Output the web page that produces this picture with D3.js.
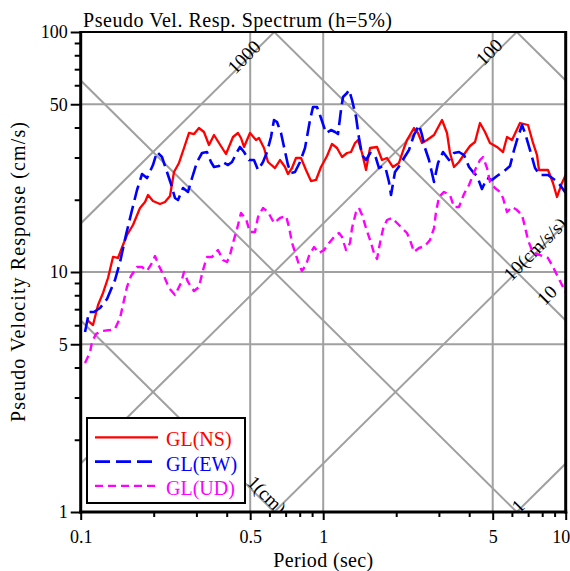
<!DOCTYPE html>
<html>
<head>
<meta charset="utf-8">
<script src="https://cdn.jsdelivr.net/npm/d3@7"></script>
<style>
  body { margin: 0; background: #fff; }
  svg { display: block; }
  text { font-family: "Liberation Serif", "Times New Roman", serif; }
</style>
</head>
<body>
<svg id="chart" width="570" height="571"></svg>
<script>
// ---- Pseudo velocity response spectra, h = 5% ----
const periodsNS = [0.1062,0.1124,0.1179,0.1236,0.1296,0.1359,0.1425,0.1494,0.1552,0.1643,0.1756,0.1842,0.1895,0.1986,0.2123,0.2226,0.2335,0.2425,0.2543,0.2667,0.2797,0.2933,0.3074,0.3224,0.3381,0.3546,0.3718,0.3973,0.4247,0.4453,0.4582,0.4715,0.4990,0.5284,0.5436,0.5701,0.5921,0.6328,0.6636,0.6959,0.7157,0.7438,0.7723,0.8099,0.8493,0.8907,0.934,0.9793,1.037,1.087,1.140,1.196,1.254,1.302,1.353,1.392,1.446,1.502,1.560,1.667,1.748,1.833,1.940,2.053,2.154,2.216,2.368,2.460,2.555,2.680,2.864,3.090,3.240,3.333,3.462,3.631,3.844,4.030,4.227,4.432,4.648,4.873,5.208,5.514,5.728,6.006,6.480,6.991,7.332,7.616,7.760,8.453,8.864,9.208,9.655,10.0];
const valuesNS = [6.31,6.01,7.29,8.18,9.44,11.55,11.44,12.96,14.26,15.70,18.48,19.57,20.93,19.76,19.20,19.57,20.73,26.10,28.46,32.86,37.95,37.58,39.81,38.31,33.82,37.23,34.48,31.02,36.52,37.95,36.17,33.18,37.95,35.48,36.17,32.86,28.73,27.12,29.28,27.38,25.60,27.12,29.85,29.85,26.61,23.94,24.18,27.38,30.43,34.15,32.86,30.14,31.32,31.62,34.48,35.48,31.32,26.61,32.86,33.18,29.28,29.85,27.38,28.46,32.86,35.48,39.81,37.95,34.48,35.48,37.23,42.99,37.95,31.32,27.38,28.73,31.32,33.50,34.81,41.77,38.31,34.48,33.18,31.62,36.52,35.48,41.77,40.97,34.48,30.72,26.61,26.61,23.49,20.54,23.49,25.36];

const periodsEW = [0.1042,0.1082,0.1134,0.1201,0.1284,0.1385,0.1453,0.1537,0.1628,0.1707,0.1790,0.1877,0.1986,0.2063,0.2164,0.2269,0.2357,0.2448,0.2519,0.2642,0.2770,0.2878,0.3017,0.3164,0.3317,0.3446,0.3546,0.3718,0.3862,0.4050,0.4206,0.4411,0.4539,0.4715,0.4943,0.5184,0.5385,0.5647,0.5866,0.6093,0.6268,0.6449,0.6699,0.6894,0.7157,0.7367,0.7651,0.8023,0.8413,0.8823,0.9077,0.9428,0.9793,1.027,1.077,1.119,1.151,1.184,1.207,1.254,1.278,1.315,1.366,1.405,1.446,1.502,1.560,1.636,1.699,1.765,1.816,1.868,1.904,1.977,2.073,2.154,2.258,2.368,2.484,2.555,2.629,2.731,2.864,2.975,3.119,3.302,3.462,3.631,3.807,3.993,4.147,4.308,4.515,4.737,4.967,5.208,5.514,5.894,6.122,6.297,6.605,6.795,7.127,7.473,7.834,8.453,9.035,9.474,10.0];
const valuesEW = [5.62,6.81,6.81,7.08,7.72,9.26,11.01,14.26,18.12,21.96,25.60,24.64,27.91,31.62,30.14,26.10,23.26,20.34,19.95,22.39,21.55,24.64,28.73,31.32,31.62,28.73,27.38,27.65,28.73,27.91,28.73,31.62,33.18,31.62,29.28,29.28,26.61,28.73,31.62,36.52,42.99,42.17,37.95,33.18,27.91,25.85,26.10,28.73,32.86,42.99,48.70,48.70,43.82,37.95,39.05,38.31,37.58,47.32,53.60,55.71,57.33,52.08,44.25,36.17,30.72,29.28,31.32,30.72,27.12,27.65,26.61,23.72,20.93,26.10,27.91,29.85,32.23,37.23,40.97,37.23,32.86,29.28,23.72,28.46,31.62,29.28,31.32,31.62,30.72,27.38,26.10,25.12,22.18,24.64,24.18,25.12,26.10,27.65,32.23,35.48,40.97,37.95,32.23,27.12,25.36,25.36,24.18,23.04,21.34];

const periodsUD = [0.1042,0.1093,0.1113,0.1157,0.1224,0.1321,0.1385,0.1453,0.1509,0.1552,0.1612,0.1707,0.1790,0.1877,0.1968,0.2025,0.2103,0.2205,0.2313,0.2448,0.2592,0.2667,0.2770,0.2933,0.3074,0.3194,0.3317,0.3479,0.3683,0.3862,0.4011,0.4128,0.4247,0.4411,0.4582,0.4805,0.4990,0.5234,0.5385,0.5647,0.5921,0.6268,0.6636,0.7026,0.7229,0.7438,0.7723,0.7947,0.8174,0.8493,0.8739,0.9165,0.9610,1.008,1.057,1.108,1.162,1.196,1.242,1.290,1.315,1.366,1.405,1.446,1.502,1.575,1.620,1.667,1.715,1.765,1.833,1.923,2.015,2.113,2.216,2.280,2.368,2.484,2.629,2.757,2.864,2.919,3.003,3.149,3.333,3.462,3.631,3.807,3.993,4.227,4.432,4.561,4.737,4.873,5.111,5.359,5.514,5.728,6.006,6.297,6.605,6.795,6.991,7.332,7.834,8.453,8.864,9.296,9.655,10.0];
const valuesUD = [4.18,4.64,5.11,5.52,5.68,5.73,5.79,6.43,7.64,8.66,9.62,10.49,10.49,10.10,10.90,11.66,10.59,9.62,8.58,8.02,9.00,10.0,9.09,8.33,8.66,10.19,11.55,11.55,12.35,11.22,11.01,11.77,13.21,15.11,17.61,16.63,14.68,14.68,16.95,18.48,17.78,16.00,16.79,17.11,15.40,13.21,11.77,10.70,10.10,10.70,11.66,12.71,12.00,12.35,13.21,13.99,14.54,13.99,12.35,13.21,15.25,17.78,18.48,17.28,15.25,13.21,12.00,11.33,13.21,15.11,16.47,16.79,16.00,15.25,14.54,13.59,12.12,12.59,12.83,13.59,15.25,17.78,20.54,21.55,20.93,18.66,18.66,21.14,23.04,26.61,29.28,30.14,27.12,23.72,22.39,21.55,20.34,17.78,18.66,18.12,17.28,15.40,13.59,12.00,11.77,11.44,10.49,9.53,8.83,8.18];

const seriesNames = ["GL(NS)", "GL(EW)", "GL(UD)"];

// Axis ticks
const yMajorTicks = [1, 5, 10, 50, 100];
const yMinorTicks = [2, 3, 4, 6, 7, 8, 9, 20, 30, 40, 60, 70, 80, 90];
const xMajorTicks = [0.1, 0.5, 1, 5, 10];
const xMinorTicks = [0.2, 0.3, 0.4, 0.6, 0.7, 0.8, 0.9, 2, 3, 4, 6, 7, 8, 9];
const xTickLabels = ["0.1", "0.5", "1", "5", "10"];
const yTickLabels = ["1", "5", "10", "50", "100"];
const xGrid = [0.5, 1, 5];
const yGrid = [5, 10, 50];

// Tripartite reference lines: constant acceleration (cm/s/s) and displacement (cm)
const accelLevels = [1, 10, 100, 1000];
const dispLevels = [0.1, 1, 10, 100];
// Line labels: text, period, velocity, rotation
const lineLabelText = ["1000", "100", "10(cm/s/s)", "10", "1(cm)", "1"];
const lineLabelT = [0.4715, 4.83, 7.47, 8.37, 0.5865, 6.36];
const lineLabelV = [78.7, 82.5, 12.47, 8.0, 1.177, 1.06];
const lineLabelRot = [-45, -45, -45, -45, 45, -45];

// ---- layout ----
const svg = d3.select("#chart");
const pL = 80.7, pR = 565.7, pT = 32, pB = 512;
const x = d3.scaleLog().domain([0.1, 10]).range([pL, pR]);
const y = d3.scaleLog().domain([1, 100]).range([pB, pT]);
const gridColor = "#a0a0a0";

svg.append("rect").attr("width", 570).attr("height", 571).attr("fill", "#fff");

svg.append("defs").append("clipPath").attr("id", "plotClip")
  .append("rect").attr("x", pL).attr("y", pT)
  .attr("width", pR - pL).attr("height", pB - pT);

const plot = svg.append("g").attr("clip-path", "url(#plotClip)");

// grid
plot.selectAll(".vgrid").data(xGrid).join("line")
  .attr("x1", d => x(d)).attr("x2", d => x(d))
  .attr("y1", pT).attr("y2", pB)
  .attr("stroke", gridColor).attr("stroke-width", 2);
plot.selectAll(".hgrid").data(yGrid).join("line")
  .attr("x1", pL).attr("x2", pR)
  .attr("y1", d => y(d)).attr("y2", d => y(d))
  .attr("stroke", gridColor).attr("stroke-width", 2);

// diagonal lines
const TWO_PI = 2 * Math.PI;
const tA = 0.02, tB = 50;
plot.selectAll(".acc").data(accelLevels).join("line")
  .attr("x1", x(tA)).attr("x2", x(tB))
  .attr("y1", a => y(a * tA / TWO_PI)).attr("y2", a => y(a * tB / TWO_PI))
  .attr("stroke", gridColor).attr("stroke-width", 2);
plot.selectAll(".disp").data(dispLevels).join("line")
  .attr("x1", x(tA)).attr("x2", x(tB))
  .attr("y1", dd => y(TWO_PI * dd / tA)).attr("y2", dd => y(TWO_PI * dd / tB))
  .attr("stroke", gridColor).attr("stroke-width", 2);

// line labels
plot.selectAll(".lineLabel").data(lineLabelText).join("text")
  .attr("transform", (t, i) => `translate(${x(lineLabelT[i])},${y(lineLabelV[i])}) rotate(${lineLabelRot[i]})`)
  .attr("text-anchor", "middle")
  .attr("dominant-baseline", "central")
  .attr("font-size", 19)
  .attr("fill", "#000")
  .text(t => t);

// curves
const styles = [
  { color: "#ff0000", width: 2.3, dash: null },
  { color: "#0000ff", width: 2.6, dash: "15,6" },
  { color: "#ff00ff", width: 2.4, dash: "8,5" }
];
const seriesData = [
  d3.zip(periodsNS, valuesNS),
  d3.zip(periodsEW, valuesEW),
  d3.zip(periodsUD, valuesUD)
];
const line = d3.line().x(d => x(d[0])).y(d => y(d[1]));
seriesData.forEach((pts, i) => {
  plot.append("path")
    .datum(pts)
    .attr("d", line)
    .attr("fill", "none")
    .attr("stroke", styles[i].color)
    .attr("stroke-width", styles[i].width)
    .attr("stroke-linejoin", "round")
    .attr("stroke-dasharray", styles[i].dash);
});

// axes
const axisFont = 18;
const gyMaj = svg.append("g").attr("transform", `translate(${pL},0)`)
  .call(d3.axisLeft(y).tickValues(yMajorTicks).tickSize(10).tickPadding(3)
    .tickFormat((d, i) => yTickLabels[i]));
const gyMin = svg.append("g").attr("transform", `translate(${pL},0)`)
  .call(d3.axisLeft(y).tickValues(yMinorTicks).tickSize(6).tickFormat(""));
const gxMaj = svg.append("g").attr("transform", `translate(0,${pB})`)
  .call(d3.axisBottom(x).tickValues(xMajorTicks).tickSize(8).tickPadding(10)
    .tickFormat((d, i) => xTickLabels[i]));
const gxMin = svg.append("g").attr("transform", `translate(0,${pB})`)
  .call(d3.axisBottom(x).tickValues(xMinorTicks).tickSize(5).tickFormat(""));
[gyMaj, gyMin, gxMaj, gxMin].forEach(g => {
  g.select(".domain").remove();
  g.selectAll(".tick line").attr("stroke", "#000").attr("stroke-width", 2);
  g.selectAll(".tick text")
    .attr("font-family", '"Liberation Serif", "Times New Roman", serif')
    .attr("font-size", axisFont).attr("fill", "#000");
});
// keep the last period label inside the canvas edge
gxMaj.selectAll(".tick text").filter(d => d === 10).attr("dx", -5);

// frame
svg.append("line").attr("x1", pL).attr("x2", pR).attr("y1", pT).attr("y2", pT)
  .attr("stroke", "#000").attr("stroke-width", 2);
svg.append("line").attr("x1", pR).attr("x2", pR).attr("y1", pT - 1).attr("y2", pB + 1.5)
  .attr("stroke", "#000").attr("stroke-width", 3);
svg.append("line").attr("x1", pL).attr("x2", pL).attr("y1", pT - 1).attr("y2", pB + 1.5)
  .attr("stroke", "#000").attr("stroke-width", 3);
svg.append("line").attr("x1", pL - 1.5).attr("x2", pR + 1.5).attr("y1", pB).attr("y2", pB)
  .attr("stroke", "#000").attr("stroke-width", 3);

// titles
svg.append("text").attr("x", 83).attr("y", 27)
  .attr("font-size", 20).attr("textLength", 309).attr("lengthAdjust", "spacing")
  .text("Pseudo Vel. Resp. Spectrum (h=5%)");
svg.append("text").attr("transform", `translate(25,${(pT + pB) / 2}) rotate(-90)`)
  .attr("text-anchor", "middle").attr("font-size", 20)
  .attr("textLength", 300).attr("lengthAdjust", "spacing")
  .text("Pseudo Velocity Response (cm/s)");
svg.append("text").attr("x", (pL + pR) / 2).attr("y", 567)
  .attr("text-anchor", "middle").attr("font-size", 20)
  .attr("textLength", 100).attr("lengthAdjust", "spacing")
  .text("Period (sec)");

// legend
const lg = svg.append("g");
lg.append("rect").attr("x", 87).attr("y", 418).attr("width", 158).attr("height", 85)
  .attr("fill", "#fff").attr("stroke", "#000").attr("stroke-width", 2);
seriesNames.forEach((name, i) => {
  const yy = 437.3 + i * 24.3;
  lg.append("line").attr("x1", 95).attr("x2", 158).attr("y1", yy).attr("y2", yy)
    .attr("stroke", styles[i].color).attr("stroke-width", styles[i].width)
    .attr("stroke-dasharray", styles[i].dash);
  lg.append("text").attr("x", 166).attr("y", yy + 9)
    .attr("font-size", 20).attr("fill", styles[i].color).text(name);
});
</script>
</body>
</html>
